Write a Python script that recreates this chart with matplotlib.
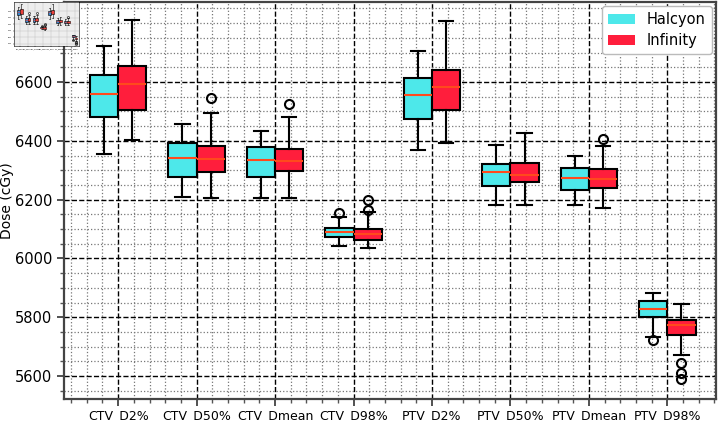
import matplotlib
matplotlib.use("Agg")
import matplotlib.pyplot as plt
from matplotlib.patches import Patch
from matplotlib.ticker import MultipleLocator

categories = ["CTV_D2%", "CTV_D50%", "CTV_Dmean", "CTV_D98%",
              "PTV_D2%", "PTV_D50%", "PTV_Dmean", "PTV_D98%"]
series_names = ["Halcyon", "Infinity"]

# five-number summaries: (whislo, q1, median, q3, whishi)
halcyon_stats = [
    (6356, 6480, 6559, 6625, 6723),
    (6208, 6278, 6340, 6391, 6458),
    (6207, 6278, 6335, 6379, 6434),
    (6041, 6073, 6091, 6104, 6141),
    (6369, 6475, 6557, 6615, 6706),
    (6181, 6248, 6293, 6321, 6387),
    (6181, 6234, 6275, 6309, 6349),
    (5732, 5802, 5828, 5855, 5884),
]
halcyon_fliers = [[], [], [], [6155], [], [], [], [5721]]

infinity_stats = [
    (6403, 6504, 6594, 6653, 6810),
    (6204, 6294, 6337, 6381, 6494),
    (6206, 6296, 6333, 6373, 6480),
    (6035, 6062, 6084, 6100, 6158),
    (6392, 6506, 6582, 6642, 6808),
    (6181, 6260, 6284, 6326, 6425),
    (6173, 6238, 6271, 6303, 6384),
    (5672, 5738, 5773, 5791, 5845),
]
infinity_fliers = [[], [6546], [6525], [6198, 6165], [], [], [6407], [5646, 5612, 5590]]

y_ticks = [5600, 5800, 6000, 6200, 6400, 6600]

color_h = "#4DE8EA"
color_i = "#FF1E3C"
median_color = "#FF4A1C"


def make_stats(stats, fliers):
    out = []
    for (lo, q1, med, q3, hi), fl in zip(stats, fliers):
        out.append(dict(whislo=lo, q1=q1, med=med, q3=q3, whishi=hi, fliers=fl))
    return out


def draw(ax, ch, ci, lw, ms, medc):
    n = len(categories)
    pos = list(range(n))
    for stats, fl, col, off in [(halcyon_stats, halcyon_fliers, ch, -0.18),
                                (infinity_stats, infinity_fliers, ci, 0.18)]:
        ax.bxp(make_stats(stats, fl), positions=[p + off for p in pos], widths=0.36,
               patch_artist=True, manage_ticks=False,
               boxprops=dict(facecolor=col, edgecolor="black", linewidth=lw),
               whiskerprops=dict(color="black", linewidth=lw),
               capprops=dict(color="black", linewidth=lw),
               medianprops=dict(color=medc, linewidth=lw),
               flierprops=dict(marker="o", markerfacecolor="none",
                               markeredgecolor="black", markersize=ms,
                               markeredgewidth=lw))


fig = plt.figure(figsize=(7.22, 4.22), dpi=100)
ax = fig.add_axes([64 / 722, 23 / 422, 652 / 722, 397 / 422])
draw(ax, color_h, color_i, 1.5, 6.5, median_color)

ax.set_xlim(-0.69, 7.62)
ax.set_ylim(5522, 6872)
ax.set_xticks(range(len(categories)))
ax.set_xticklabels(categories, fontsize=9)
ax.set_yticks(y_ticks)
ax.tick_params(axis="y", labelsize=10.5)
ax.tick_params(axis="x", which="major", pad=2)
ax.xaxis.set_minor_locator(MultipleLocator(0.2))
ax.yaxis.set_minor_locator(MultipleLocator(50))
ax.tick_params(which="major", length=5, width=1.2, color="#333333")
ax.tick_params(which="minor", length=3, width=1.0, color="#555555")
ax.grid(which="major", linestyle="--", color="black", linewidth=1.0)
ax.grid(which="minor", linestyle=":", color="#777777", linewidth=0.9)
ax.set_axisbelow(True)
for s in ax.spines.values():
    s.set_color("#444444")
    s.set_linewidth(1.6)
ax.set_ylabel("Dose (cGy)", fontsize=10)
ax.yaxis.set_label_coords(-0.076, 0.5)

handles = [Patch(facecolor=color_h, edgecolor="none"),
           Patch(facecolor=color_i, edgecolor="none")]
ax.legend(handles, series_names, loc="upper right", fontsize=10.5,
          framealpha=1.0, edgecolor="#BBBBBB", borderaxespad=0.3,
          labelspacing=0.4, handlelength=1.9)

# tiny thumbnail in top-left corner
ins = fig.add_axes([0.02, 0.89, 0.09, 0.105])
ins.set_facecolor("#EEEEEE")
draw(ins, "#3A86CC", "#E8403A", 0.4, 1.5, "#E8403A")
ins.set_xlim(-0.69, 7.62)
ins.set_ylim(5522, 6872)
ins.set_xticks(range(len(categories)))
ins.set_xticklabels(categories, fontsize=1.2)
ins.set_yticks(y_ticks)
ins.tick_params(labelsize=1.2, length=1, width=0.3, pad=0.5)
ins.grid(True, color="#BBBBBB", linewidth=0.3)
ins.set_axisbelow(True)
for s in ins.spines.values():
    s.set_linewidth(0.4)

fig.savefig("out.png", dpi=100)
